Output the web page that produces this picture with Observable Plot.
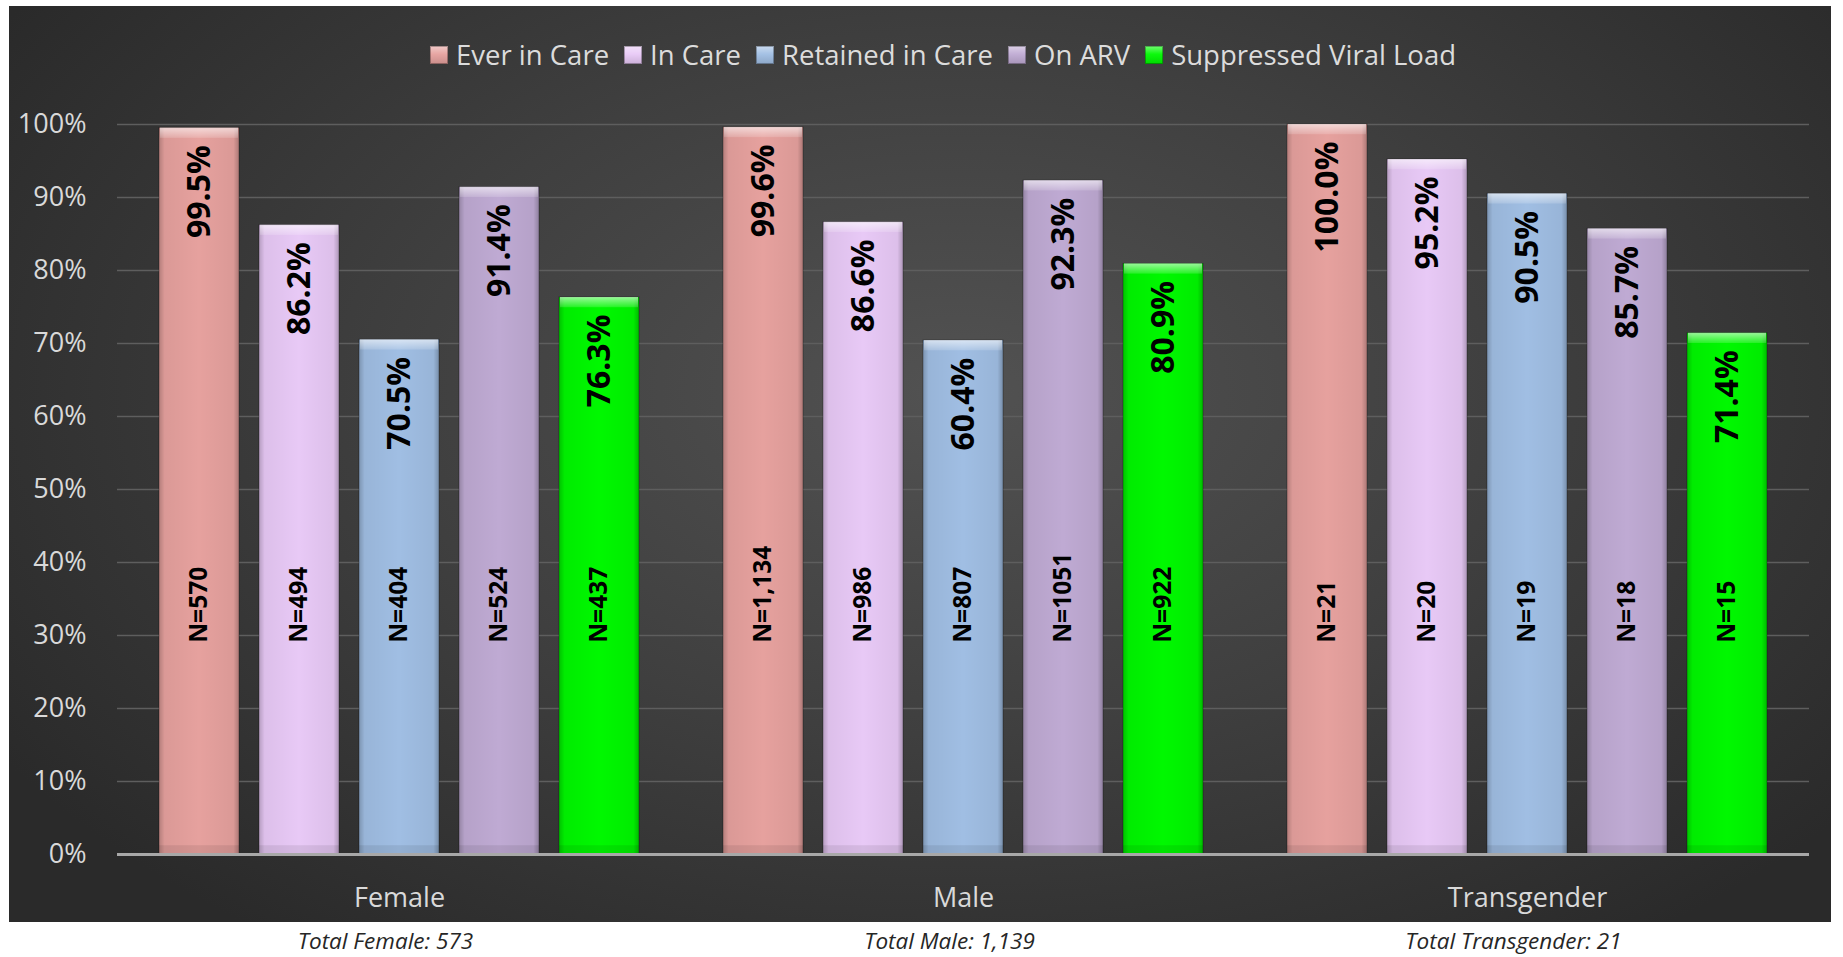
<!DOCTYPE html>
<html>
<head>
<meta charset="utf-8">
<script src="https://cdn.jsdelivr.net/npm/d3@7"></script>
<script src="https://cdn.jsdelivr.net/npm/@observablehq/plot@0.6"></script>
<style>
  html, body { margin: 0; padding: 0; background: #ffffff; overflow: hidden; }
  #page { position: relative; width: 1843px; height: 957px; }
  #panel {
    position: absolute; left: 9px; top: 6px; width: 1822px; height: 916px;
    background: radial-gradient(ellipse 62% 75% at 52% 42%, #525252 0%, #3f3f3f 50%, #2a2a2a 100%);
  }
  #legend {
    position: absolute; top: 36px; left: 943px; transform: translateX(-50%);
    display: flex; align-items: center; white-space: nowrap;
    font-family: "Open Sans", sans-serif; font-size: 27.5px; color: #dcdcdc;
  }
  .item { display: flex; align-items: center; margin-right: 15px; }
  .item:last-child { margin-right: 0; }
  .sw {
    width: 18px; height: 18px; margin-right: 8px; box-sizing: border-box;
    box-shadow: inset 0 0 0 1px rgba(0,0,0,0.3);
  }
  #chart { position: absolute; left: 0; top: 0; }
</style>
</head>
<body>
<svg width="0" height="0" style="position:absolute">
  <defs>
    <linearGradient id="barShade" x1="0" x2="1" y1="0" y2="0">
      <stop offset="0" stop-color="#000" stop-opacity="0.22"/>
      <stop offset="0.07" stop-color="#000" stop-opacity="0.05"/>
      <stop offset="0.5" stop-color="#000" stop-opacity="0"/>
      <stop offset="0.93" stop-color="#000" stop-opacity="0.05"/>
      <stop offset="1" stop-color="#000" stop-opacity="0.25"/>
    </linearGradient>
    <linearGradient id="topBevel" x1="0" x2="0" y1="0" y2="1">
      <stop offset="0" stop-color="#fff" stop-opacity="0.6"/>
      <stop offset="1" stop-color="#fff" stop-opacity="0.15"/>
    </linearGradient>
  </defs>
</svg>
<div id="page">
  <div id="panel"></div>
  <div id="legend"></div>
  <div id="chart"></div>
</div>
<script>
const genders = ["Female", "Male", "Transgender"];
const measures = ["Ever in Care", "In Care", "Retained in Care", "On ARV", "Suppressed Viral Load"];
const colors = ["#e6a19e", "#e8c9f6", "#a0bee3", "#bfaad3", "#00f800"];

const femaleValues = [99.5, 86.2, 70.5, 91.4, 76.3];
const maleValues = [99.6, 86.6, 70.4, 92.3, 80.9];
const transValues = [100.0, 95.2, 90.5, 85.7, 71.4];

const femaleLabels = ["99.5%", "86.2%", "70.5%", "91.4%", "76.3%"];
const maleLabels = ["99.6%", "86.6%", "60.4%", "92.3%", "80.9%"];
const transLabels = ["100.0%", "95.2%", "90.5%", "85.7%", "71.4%"];

const femaleN = ["N=570", "N=494", "N=404", "N=524", "N=437"];
const maleN = ["N=1,134", "N=986", "N=807", "N=1051", "N=922"];
const transN = ["N=21", "N=20", "N=19", "N=18", "N=15"];

const totals = ["Total Female: 573", "Total Male: 1,139", "Total Transgender: 21"];

const yTicks = [0, 10, 20, 30, 40, 50, 60, 70, 80, 90, 100];
const nLabelAt = 29;

const valueSets = [femaleValues, maleValues, transValues];
const labelSets = [femaleLabels, maleLabels, transLabels];
const nSets = [femaleN, maleN, transN];

const rows = [];
genders.forEach((g, gi) => {
  measures.forEach((m, mi) => {
    rows.push({gender: g, measure: m, value: valueSets[gi][mi], label: labelSets[gi][mi], n: nSets[gi][mi]});
  });
});
const totalRows = genders.map((g, i) => ({gender: g, total: totals[i]}));

// legend
const legend = document.getElementById("legend");
measures.forEach((m, i) => {
  const it = document.createElement("div");
  it.className = "item";
  const sw = document.createElement("div");
  sw.className = "sw";
  sw.style.background = `linear-gradient(to bottom, rgba(255,255,255,0.45), rgba(255,255,255,0.05) 45%, rgba(0,0,0,0.12) 100%), ${colors[i]}`;
  const tx = document.createElement("span");
  tx.textContent = m;
  it.appendChild(sw);
  it.appendChild(tx);
  legend.appendChild(it);
});

const chart = Plot.plot({
  width: 1843,
  height: 957,
  marginTop: 124,
  marginBottom: 103,
  marginLeft: 116,
  marginRight: 34,
  style: {background: "transparent", fontFamily: "'Open Sans', sans-serif", color: "#d9d9d9", overflow: "visible"},
  fx: {domain: genders, padding: 0, label: null},
  x: {domain: measures, paddingInner: 0.2, paddingOuter: 0.4, axis: null},
  y: {domain: [0, 100], axis: null},
  color: {domain: measures, range: colors},
  marks: [
    Plot.gridY(yTicks, {stroke: "#5e5e5e", strokeOpacity: 1, strokeWidth: 1.5}),
    Plot.axisY({ticks: yTicks, tickFormat: d => d + "%", tickSize: 0, tickPadding: 31, fontSize: 27, label: null}),
    Plot.axisFx({anchor: "bottom", tickSize: 0, tickPadding: 33, fontSize: 27, label: null}),
    Plot.barY(rows, {fx: "gender", x: "measure", y: "value", fill: "measure", stroke: "#000", strokeOpacity: 0.3, strokeWidth: 1}),
    Plot.barY(rows, {fx: "gender", x: "measure", y: "value", fill: "url(#barShade)"}),
    Plot.barY(rows, {fx: "gender", x: "measure", y1: d => d.value - 1.4, y2: "value", fill: "url(#topBevel)", insetLeft: 1, insetRight: 1}),
    Plot.barY(rows, {fx: "gender", x: "measure", y1: 0, y2: d => 1.2, fill: "#000", fillOpacity: 0.08}),
    Plot.ruleY([0], {stroke: "#a8a8a8", strokeWidth: 3}),
    Plot.text(rows, {fx: "gender", x: "measure", y: "value", text: "label", rotate: -90, textAnchor: "end", dy: 17,
      fontSize: 32, fontWeight: "bold", fill: "#000"}),
    Plot.text(rows, {fx: "gender", x: "measure", y: () => nLabelAt, text: "n", rotate: -90, textAnchor: "start",
      fontSize: 24.5, fontWeight: "bold", fill: "#000"}),
    Plot.text(totalRows, {fx: "gender", text: "total", frameAnchor: "bottom", dy: 94, dx: -14,
      fontSize: 22.5, fontStyle: "italic", fill: "#262626"})
  ]
});
document.getElementById("chart").appendChild(chart);
</script>
</body>
</html>
